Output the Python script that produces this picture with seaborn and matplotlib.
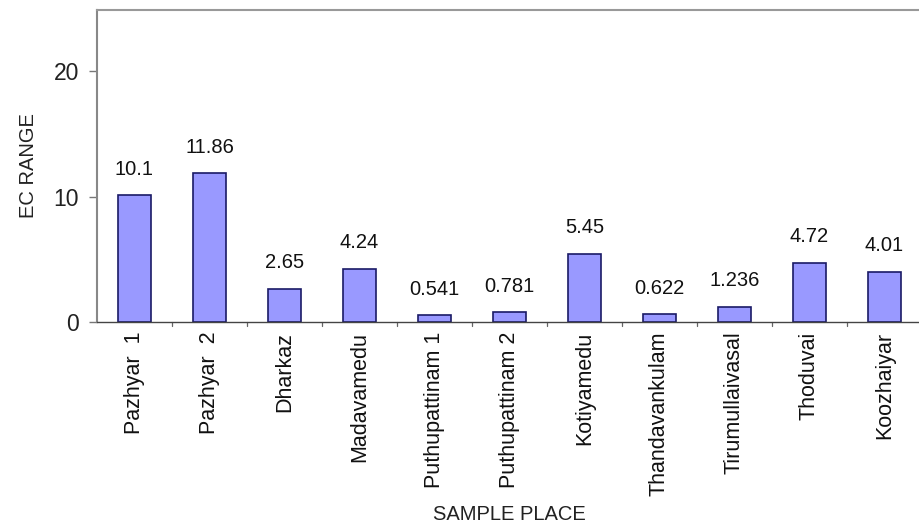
import matplotlib
matplotlib.use("Agg")
import matplotlib.pyplot as plt
import seaborn as sns
import pandas as pd

places = ["Pazhyar  1", "Pazhyar  2", "Dharkaz", "Madavamedu", "Puthupattinam 1",
          "Puthupattinam 2", "Kotiyamedu", "Thandavankulam", "Tirumullaivasal",
          "Thoduvai", "Koozhaiyar"]
ec_values = [10.1, 11.86, 2.65, 4.24, 0.541, 0.781, 5.45, 0.622, 1.236, 4.72, 4.01]
value_labels = ["10.1", "11.86", "2.65", "4.24", "0.541", "0.781", "5.45", "0.622",
                "1.236", "4.72", "4.01"]
y_ticks = [0, 10, 20]

sns.set_style("white")
plt.rcParams["font.family"] = ["Liberation Sans", "DejaVu Sans"]

df = pd.DataFrame({"place": places, "ec": ec_values})

fig = plt.figure(figsize=(9.19, 5.27), dpi=100)
ax = fig.add_axes([97 / 919, (527 - 322) / 527, 825 / 919, 312 / 527])

sns.barplot(data=df, x="place", y="ec", ax=ax, color="#9999FF", width=0.44,
            edgecolor="#1a1a66", linewidth=1.2, saturation=1)

ax.set_xlim(-0.5, len(places) - 0.5)
ax.set_ylim(0, 24.9)
ax.set_yticks(y_ticks)
ax.set_yticklabels([str(t) for t in y_ticks], fontsize=16.5, color="#222222")

# x ticks at category boundaries
ax.set_xticks(range(len(places)))
ax.set_xticklabels(places, rotation=90, fontsize=15.5, color="#111111")
ax.tick_params(axis="x", length=0, pad=7)
for b in range(1, len(places)):
    ax.plot([b - 0.5, b - 0.5], [0, -0.35], color="#666666", lw=0.9,
            clip_on=False, transform=ax.transData)
ax.tick_params(axis="y", length=6, width=1, color="#777777", direction="out", left=True, pad=7)

for i, (v, lab) in enumerate(zip(ec_values, value_labels)):
    ax.annotate(lab, (i, v), xytext=(0, 12), textcoords="offset points",
                ha="center", va="bottom", fontsize=14.5, color="#111111")

ax.spines["right"].set_visible(False)
ax.spines["top"].set_color("#999999")
ax.spines["top"].set_linewidth(1.5)
ax.spines["left"].set_color("#888888")
ax.spines["left"].set_linewidth(1.5)
ax.spines["bottom"].set_color("#444444")
ax.spines["bottom"].set_linewidth(1.0)

ax.set_ylabel("EC RANGE", fontsize=14.5, color="#222222", labelpad=11)
ax.set_xlabel("SAMPLE PLACE", fontsize=14.5, color="#222222", labelpad=6)

fig.savefig("out.png", dpi=100)
